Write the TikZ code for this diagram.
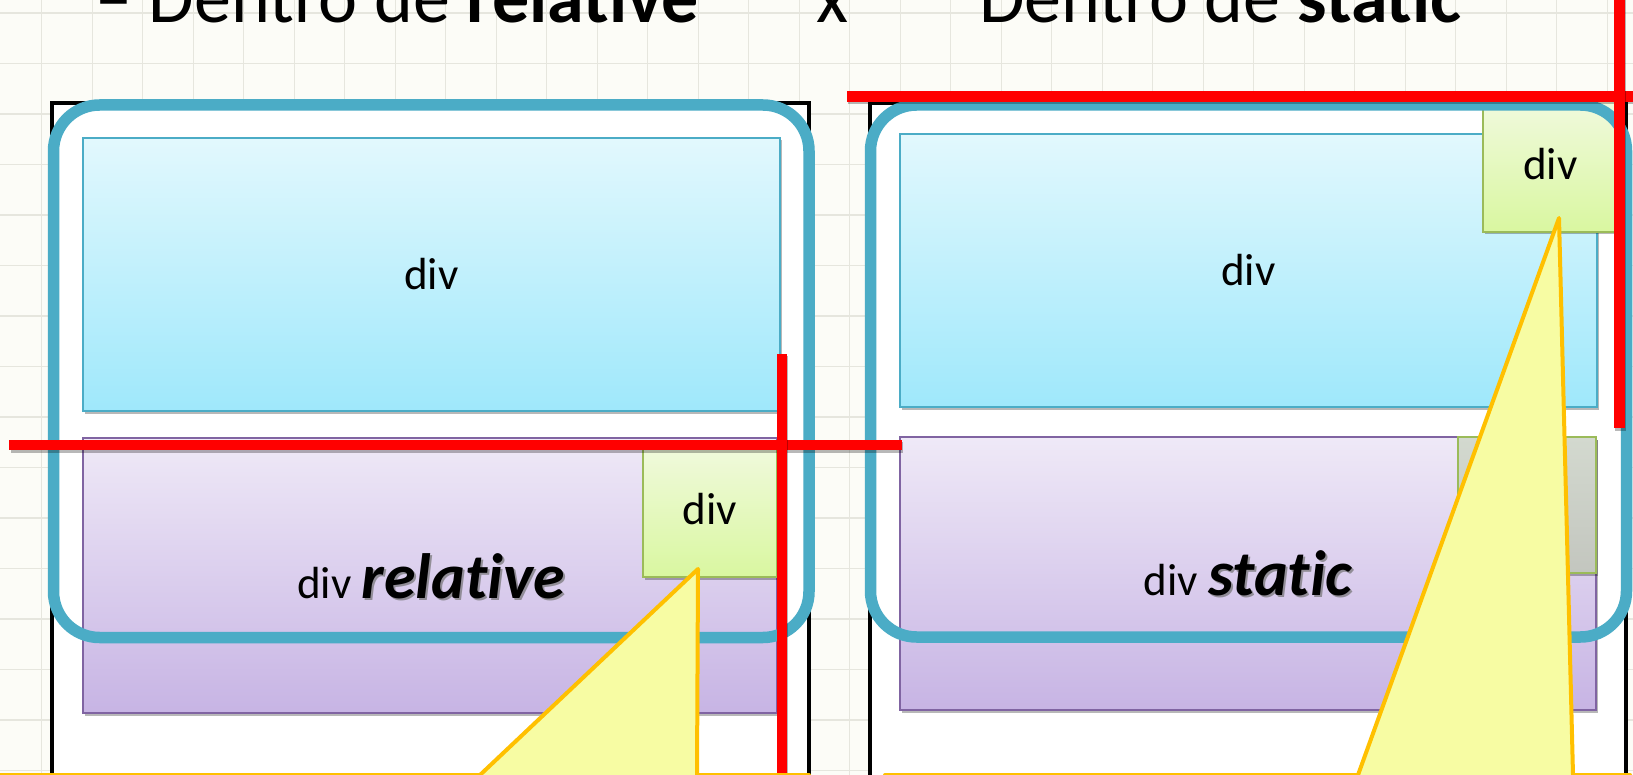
\documentclass[tikz,border=0pt]{standalone}
\usepackage{fontspec}
\setmainfont{Carlito}[Ligatures=NoCommon]
\usetikzlibrary{shadows}
\definecolor{bgc}{HTML}{FCFCF7}
\definecolor{gridc}{HTML}{E6E6DE}
\definecolor{frameblue}{HTML}{4BACC6}
\definecolor{cyanT}{HTML}{E2F8FD}
\definecolor{cyanB}{HTML}{9FE8FB}
\definecolor{purT}{HTML}{EFE9F7}
\definecolor{purB}{HTML}{C7B4E4}
\definecolor{purE}{HTML}{8064A2}
\definecolor{grnT}{HTML}{F1FADF}
\definecolor{grnB}{HTML}{D9F7A0}
\definecolor{grnE}{HTML}{9BBB59}
\definecolor{grayT}{HTML}{D3D9CF}
\definecolor{grayB}{HTML}{C3C6BF}
\definecolor{calloutfill}{HTML}{F7FCA3}
\definecolor{calloutedge}{HTML}{FFC000}
\definecolor{redc}{HTML}{FF0000}
\begin{document}
\begin{tikzpicture}[x=1pt,y=-1pt,
  dshadow/.style={drop shadow={shadow xshift=1.5pt,shadow yshift=-2.5pt,opacity=0.28,fill=black}},
  divbox/.style={rectangle,inner sep=0pt,outer sep=0pt,line width=1.8pt,font=\fontsize{45}{54}\selectfont,dshadow},
  cyanbox/.style={divbox,draw=frameblue,top color=cyanT,bottom color=cyanB},
  purplebox/.style={divbox,draw=purE,top color=purT,bottom color=purB},
  greenbox/.style={divbox,draw=grnE,top color=grnT,bottom color=grnB},
  graybox/.style={divbox,draw=grnE,top color=grayT,bottom color=grayB},
  outerbox/.style={draw=black,line width=4pt,fill=white},
  frame/.style={draw=frameblue,line width=11.5pt,rounded corners=46pt},
  redbar/.style={fill=redc,dshadow},
  callout/.style={fill=calloutfill,draw=calloutedge,line width=4pt,line join=round},
  gridline/.style={draw=gridc,line width=1.3pt},
  titletext/.style={inner sep=0pt,font=\fontsize{74}{88}\selectfont},
  labeltext/.style={inner sep=0pt},
]
\useasboundingbox (0,0) rectangle (1633,775);
\clip (0,0) rectangle (1633,775);
% background and grid
\fill[bgc] (0,0) rectangle (1633,775);
\foreach \k in {0,...,31} {\draw[gridline] (41.7+50.5*\k,0) -- (41.7+50.5*\k,775);}
\foreach \k in {0,...,15} {\draw[gridline] (0,13+50.5*\k) -- (1633,13+50.5*\k);}
% title
\node[titletext,anchor=base west] (t1) at (95,22.5) {– Dentro de \textbf{relative}};
\node[titletext,anchor=base] (t2) at (833,22.5) {x};
\node[titletext,anchor=base west] (t3) at (979,22.5) {Dentro de \textbf{static}};
% outer page boxes
\draw[outerbox] (52,103) rectangle (809,820);
\draw[outerbox] (870,103) rectangle (1626,820);
% left panel divs
\node[cyanbox,minimum width=697pt,minimum height=273pt] (cL) at (431.5,274.5) {div};
\node[purplebox,minimum width=694pt,minimum height=275pt] (pL) at (430,575.5) {};
\node[greenbox,minimum width=134pt,minimum height=136pt] (gL) at (710,509) {div};
% right panel divs
\node[cyanbox,minimum width=697pt,minimum height=273pt] (cR) at (1248.5,270.5) {div};
\node[purplebox,minimum width=696pt,minimum height=273pt] (pR) at (1248,573.5) {};
\node[graybox,minimum width=138pt,minimum height=136pt] (gR) at (1527,505) {};
\node[greenbox,minimum width=135pt,minimum height=135pt] (gT) at (1550.5,164.5) {div};
% labels in purple divs
\node[labeltext,anchor=base,text=black!55,opacity=0.7] (sL) at (433,600.5) {\fontsize{45}{54}\selectfont\phantom{div} \fontsize{64}{76}\selectfont\bfseries\itshape relative};
\node[labeltext,anchor=base] (lL) at (431,598) {\fontsize{45}{54}\selectfont div \fontsize{64}{76}\selectfont\bfseries\itshape relative};
\node[labeltext,anchor=base,text=black!55,opacity=0.7] (sR) at (1250,597.5) {\fontsize{45}{54}\selectfont\phantom{div} \fontsize{64}{76}\selectfont\bfseries\itshape static};
\node[labeltext,anchor=base] (lR) at (1248,595) {\fontsize{45}{54}\selectfont div \fontsize{64}{76}\selectfont\bfseries\itshape static};
% blue frames
\draw[frame] (53.5,105) rectangle (809,637.5);
\draw[frame] (870.5,105) rectangle (1626.5,637);
% red lines
\fill[redbar] (9.3,439.7) rectangle (901.7,450.3);
\fill[redbar] (776.5,354) rectangle (786.5,790);
\fill[redbar] (846.7,91.2) rectangle (1650,101.8);
\fill[redbar] (1613.5,-10) rectangle (1624.5,428);
% callouts
\coordinate (tipL) at (698,569);
\coordinate (tipR) at (1559,218);
\filldraw[callout] (-20,775) -- (480,775) -- (tipL) -- (697,775) -- (809,775) -- (809,900) -- (-20,900) -- cycle;
\filldraw[callout] (885,775) -- (1358,775) -- (tipR) -- (1573,775) -- (1630,775) -- (1630,900) -- (885,900) -- cycle;
\end{tikzpicture}
\end{document}
